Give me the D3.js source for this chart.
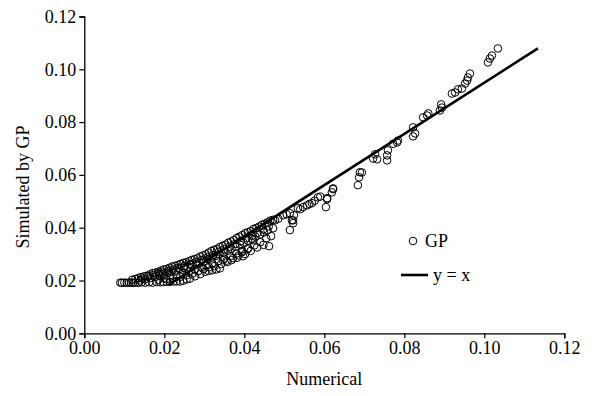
<!DOCTYPE html>
<html><head><meta charset="utf-8">
<script src="https://cdn.jsdelivr.net/npm/d3@7"></script>
<style>body{margin:0;background:#fff}svg{display:block}</style>
</head><body>
<script>
const xTicks = [0.00,0.02,0.04,0.06,0.08,0.10,0.12];
const yTicks = [0.00,0.02,0.04,0.06,0.08,0.10,0.12];
const xLabel = "Numerical";
const yLabel = "Simulated by GP";
const legendNames = ["GP","y = x"];
// y = x reference line (endpoints as drawn)
const lineX = [0.0210, 0.1134];
const lineY = [0.0183, 0.1079];
// GP points [numerical, simulated]
const gpBottom = [[0.0090,0.0192],[0.0094,0.0191],[0.0100,0.0192],[0.0106,0.0191],[0.0112,0.0192],[0.0117,0.0192],[0.0122,0.0191],[0.0127,0.0192],[0.0135,0.0191],[0.0143,0.0193],[0.0152,0.0192],[0.0162,0.0193],[0.0171,0.0192],[0.0181,0.0194],[0.0190,0.0193],[0.0198,0.0194],[0.0206,0.0195],[0.0214,0.0195],[0.0223,0.0196],[0.0231,0.0197],[0.0239,0.0196],[0.0247,0.0199],[0.0256,0.0204]];
const gpLower = [[0.0264,0.0207],[0.0277,0.0216],[0.0290,0.0224],[0.0302,0.0233],[0.0311,0.0236],[0.0320,0.0239],[0.0330,0.0242],[0.0339,0.0246],[0.0347,0.0277],[0.0358,0.0270],[0.0368,0.0277],[0.0382,0.0286],[0.0397,0.0292],[0.0394,0.0307],[0.0408,0.0318],[0.0422,0.0353],[0.0462,0.0330],[0.0467,0.0368],[0.0472,0.0398],[0.0514,0.0391],[0.0522,0.0428],[0.0524,0.0447],[0.0604,0.0478],[0.0607,0.0508],[0.0622,0.0546],[0.0684,0.0561],[0.0687,0.0591],[0.0689,0.0610]];
const gpUpper = [[0.0120,0.0203],[0.0128,0.0206],[0.0135,0.0209],[0.0142,0.0213],[0.0150,0.0216],[0.0157,0.0218],[0.0164,0.0223],[0.0171,0.0228],[0.0178,0.0230],[0.0185,0.0233],[0.0192,0.0238],[0.0199,0.0242],[0.0206,0.0244],[0.0213,0.0248],[0.0220,0.0253],[0.0227,0.0256],[0.0234,0.0258],[0.0241,0.0263],[0.0248,0.0267],[0.0255,0.0269],[0.0262,0.0273],[0.0269,0.0278],[0.0276,0.0281],[0.0283,0.0284],[0.0290,0.0291],[0.0297,0.0295],[0.0304,0.0299],[0.0311,0.0306],[0.0318,0.0312],[0.0325,0.0316],[0.0332,0.0320],[0.0339,0.0327],[0.0346,0.0331],[0.0353,0.0336],[0.0360,0.0343],[0.0367,0.0348],[0.0374,0.0353],[0.0381,0.0361],[0.0388,0.0366],[0.0395,0.0372],[0.0402,0.0379],[0.0409,0.0383],[0.0416,0.0387],[0.0423,0.0395],[0.0430,0.0399],[0.0437,0.0404],[0.0444,0.0411],[0.0451,0.0415],[0.0458,0.0420],[0.0465,0.0427],[0.0472,0.0430]];
const gpMiddle = [[0.0140,0.0200],[0.0152,0.0205],[0.0165,0.0209],[0.0176,0.0214],[0.0188,0.0219],[0.0197,0.0224],[0.0208,0.0229],[0.0218,0.0233],[0.0229,0.0238],[0.0238,0.0243],[0.0249,0.0248],[0.0258,0.0252],[0.0268,0.0258],[0.0279,0.0262],[0.0288,0.0268],[0.0299,0.0273],[0.0309,0.0280],[0.0318,0.0286],[0.0329,0.0293],[0.0338,0.0300],[0.0348,0.0306],[0.0359,0.0313],[0.0368,0.0320],[0.0378,0.0328],[0.0389,0.0336],[0.0398,0.0343],[0.0409,0.0351],[0.0419,0.0358],[0.0428,0.0366],[0.0439,0.0374],[0.0449,0.0382],[0.0458,0.0390],
 [0.0200,0.0210],[0.0215,0.0215],[0.0230,0.0222],[0.0245,0.0228],[0.0262,0.0236],[0.0276,0.0242],[0.0292,0.0250],[0.0305,0.0257],[0.0320,0.0265],[0.0335,0.0273],[0.0350,0.0283],[0.0365,0.0292],[0.0380,0.0302],[0.0395,0.0312],[0.0410,0.0322],[0.0425,0.0333],[0.0440,0.0345]];
const gpBandA = [[0.0146,0.0208],[0.0160,0.0215],[0.0173,0.0220],[0.0186,0.0226],[0.0195,0.0231],[0.0210,0.0236],[0.0222,0.0241],[0.0236,0.0248],[0.0251,0.0255],[0.0265,0.0262],[0.0280,0.0270],[0.0294,0.0277],[0.0308,0.0287],[0.0322,0.0296],[0.0336,0.0308],[0.0350,0.0318],[0.0364,0.0328],[0.0377,0.0338],[0.0391,0.0349],[0.0405,0.0360],[0.0419,0.0370],[0.0433,0.0381],[0.0447,0.0393],[0.0461,0.0405]];
const gpBandB = [[0.0185,0.0203],[0.0205,0.0205],[0.0222,0.0209],[0.0240,0.0214],[0.0255,0.0219],[0.0270,0.0226],[0.0285,0.0236],[0.0298,0.0243],[0.0312,0.0250],[0.0326,0.0255],[0.0342,0.0262],[0.0356,0.0275],[0.0372,0.0285],[0.0386,0.0295],[0.0402,0.0300],[0.0416,0.0312],[0.0432,0.0325],[0.0448,0.0335],[0.0455,0.0360]];
const gpMid = [[0.0477,0.0428],[0.0485,0.0434],[0.0497,0.0447],[0.0506,0.0451],[0.0514,0.0455],[0.0519,0.0428],[0.0522,0.0417],[0.0534,0.0474],[0.0540,0.0470],[0.0547,0.0478],[0.0557,0.0485],[0.0563,0.0490],[0.0569,0.0493],[0.0576,0.0502],[0.0584,0.0515],[0.0590,0.0518],[0.0607,0.0512],[0.0619,0.0534],[0.0622,0.0549]];
const gpTop = [[0.0694,0.0609],[0.0722,0.0662],[0.0727,0.0678],[0.0732,0.0659],[0.0757,0.0655],[0.0757,0.0674],[0.0759,0.0693],[0.0772,0.0718],[0.0782,0.0723],[0.0784,0.0730],[0.0822,0.0780],[0.0827,0.0757],[0.0822,0.0746],[0.0847,0.0818],[0.0857,0.0825],[0.0860,0.0833],[0.0889,0.0844],[0.0892,0.0867],[0.0894,0.0855],[0.0919,0.0908],[0.0927,0.0912],[0.0934,0.0924],[0.0944,0.0927],[0.0952,0.0946],[0.0957,0.0957],[0.0959,0.0969],[0.0964,0.0984],[0.1009,0.1026],[0.1014,0.1041],[0.1019,0.1052],[0.1034,0.1079]];

const W = 609, H = 396;
const font = "'Liberation Serif','Times New Roman',serif";
const fs = "18px";
const svg = d3.select("body").append("svg").attr("width", W).attr("height", H);
const x = d3.scaleLinear().domain([0, 0.12]).range([84.3, 564.3]);
const y = d3.scaleLinear().domain([0, 0.12]).range([333.3, 16.5]);
const fmt = d3.format(".2f");

const gx = svg.append("g").attr("transform", `translate(0,${y(0)})`)
  .call(d3.axisBottom(x).tickValues(xTicks).tickFormat(fmt).tickSizeOuter(0).tickSize(5).tickPadding(3));
const gy = svg.append("g").attr("transform", `translate(${x(0)},0)`)
  .call(d3.axisLeft(y).tickValues(yTicks).tickFormat(fmt).tickSizeOuter(0).tickSize(5).tickPadding(3));
[gx, gy].forEach(g => {
  g.selectAll("path.domain").attr("stroke", "#000").attr("stroke-width", 1.3);
  g.selectAll(".tick line").attr("stroke", "#000").attr("stroke-width", 1.2);
  g.selectAll(".tick text").attr("fill", "#000").style("font-family", font).style("font-size", fs);
});

const all = [].concat(gpBottom, gpLower, gpUpper, gpMiddle, gpBandA, gpBandB, gpMid, gpTop);
svg.append("g").selectAll("circle").data(all).join("circle")
  .attr("cx", d => x(d[0])).attr("cy", d => y(d[1])).attr("r", 3.8)
  .attr("fill", "none").attr("stroke", "#000").attr("stroke-width", 1);

const line = d3.line().x(d => x(d[0])).y(d => y(d[1]));
svg.append("path").datum(lineX.map((v, i) => [v, lineY[i]])).attr("d", line)
  .attr("stroke", "#000").attr("stroke-width", 2.6).attr("fill", "none");

svg.append("text").attr("x", (x(0) + x(0.12)) / 2).attr("y", 385).attr("text-anchor", "middle")
  .style("font-family", font).style("font-size", fs).text(xLabel);
svg.append("text").attr("transform", `translate(29,${(y(0) + y(0.12)) / 2 + 12}) rotate(-90)`).attr("text-anchor", "middle")
  .style("font-family", font).style("font-size", fs).text(yLabel);

// legend
const lg = svg.append("g");
lg.append("circle").attr("cx", 413).attr("cy", 241).attr("r", 3.8).attr("fill", "none").attr("stroke", "#000");
lg.append("text").attr("x", 425).attr("y", 247).style("font-family", font).style("font-size", fs).text(legendNames[0]);
lg.append("line").attr("x1", 401).attr("x2", 428).attr("y1", 275).attr("y2", 275).attr("stroke", "#000").attr("stroke-width", 2.6);
lg.append("text").attr("x", 433).attr("y", 281).style("font-family", font).style("font-size", fs).text(legendNames[1]);
</script>
</body></html>
